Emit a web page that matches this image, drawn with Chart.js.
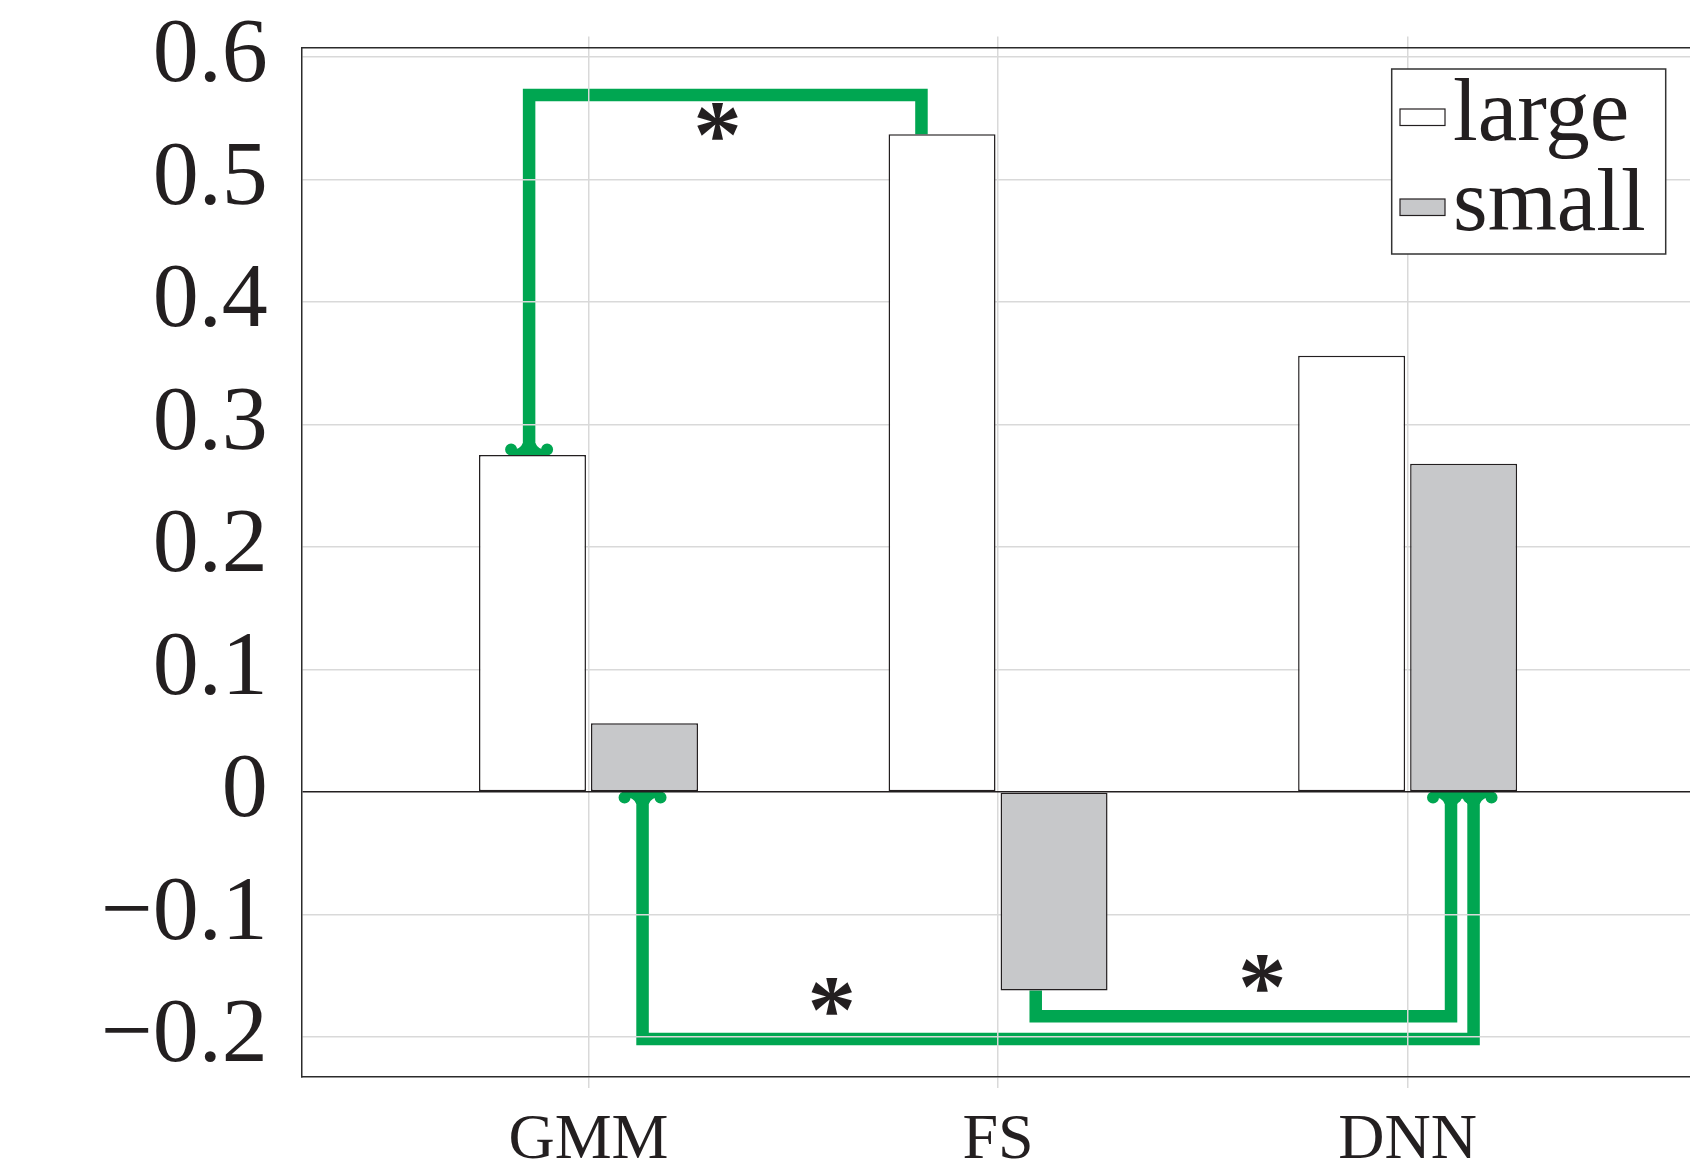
<!DOCTYPE html>
<html>
<head>
<meta charset="utf-8">
<script src="https://cdn.jsdelivr.net/npm/chart.js@4.4.0/dist/chart.umd.min.js"></script>
<style>
    html, body { margin: 0; padding: 0; background: #fff; overflow: hidden; }
    #wrap { width: 1720px; height: 1167px; }
</style>
</head>
<body>
<div id="wrap"><canvas id="chart" width="1720" height="1167"></canvas></div>
<script>
/* data */
const categories = ['GMM', 'FS', 'DNN'];
const largeValues = [0.275, 0.537, 0.356];
const smallValues = [0.056, -0.162, 0.268];
const yTickValues = [-0.2, -0.1, 0, 0.1, 0.2, 0.3, 0.4, 0.5, 0.6];
const yMin = -0.2327;
const yMax = 0.6078;
const xMin = 0.3;
const xMax = 3.7;

// significance brackets, data units (x: 1 = GMM, 2 = FS, 3 = DNN)
const bracketGmmFs = [[0.855, 0.275], [0.855, 0.569], [1.813, 0.569], [1.813, 0.537]];
const bracketGmmDnn = [[1.132, 0], [1.132, -0.2017], [3.161, -0.2017], [3.161, 0]];
const bracketFsDnn = [[2.092, -0.162], [2.092, -0.1831], [3.106, -0.1831], [3.106, 0]];
const starPoints = [[1.315, 0.547], [1.594, -0.1675], [2.645, -0.149]];

const COLORS = {
    text: '#231f20',
    edge: '#231f20',
    grid: '#d9d9d9',
    small: '#c7c8ca',
    green: '#00a651'
};
const SERIF = "'Liberation Serif', 'Times New Roman', serif";

const brackets = [
    { points: bracketGmmFs, headStart: true, headEnd: false },
    { points: bracketGmmDnn, headStart: true, headEnd: true },
    { points: bracketFsDnn, headStart: false, headEnd: true }
];

/**
 * Arrow head with two round lobes, tip at the bar edge
 */
const drawHead = (ctx, tip, from) => {
    const dir = tip[1] > from[1] ? 1 : -1;
    const w = 24, r = 6, band = 5;
    ctx.save();
    ctx.translate(tip[0], tip[1]);
    ctx.scale(1, dir);
    ctx.beginPath();
    ctx.moveTo(-(w - r), 0);
    ctx.lineTo(w - r, 0);
    ctx.lineTo(w - r, -band);
    ctx.quadraticCurveTo(9, -band, 6.25, -band - 7);
    ctx.lineTo(-6.25, -band - 7);
    ctx.quadraticCurveTo(-9, -band, -(w - r), -band);
    ctx.closePath();
    ctx.fill();
    ctx.beginPath();
    ctx.arc(w - r, -5.5, r, 0, Math.PI * 2);
    ctx.arc(-(w - r), -5.5, r, 0, Math.PI * 2);
    ctx.fill();
    ctx.restore();
};

const significancePlugin = {
    id: 'significance',
    beforeDraw(chart) {
        const { ctx, scales: { x, y } } = chart;
        ctx.save();
        ctx.strokeStyle = COLORS.green;
        ctx.fillStyle = COLORS.green;
        ctx.lineWidth = 12.5;
        ctx.lineJoin = 'miter';
        ctx.lineCap = 'butt';
        brackets.forEach(b => {
            const pts = b.points.map(([vx, vy]) => [x.getPixelForValue(vx), y.getPixelForValue(vy)]);
            ctx.beginPath();
            pts.forEach(([px, py], i) => (i ? ctx.lineTo(px, py) : ctx.moveTo(px, py)));
            ctx.stroke();
            if (b.headStart) drawHead(ctx, pts[0], pts[1]);
            if (b.headEnd) drawHead(ctx, pts[pts.length - 1], pts[pts.length - 2]);
        });
        ctx.restore();
    },
    afterDatasetsDraw(chart) {
        const { ctx, scales: { x, y } } = chart;
        ctx.save();
        ctx.fillStyle = COLORS.text;
        ctx.font = `bold 97px ${SERIF}`;
        ctx.textAlign = 'center';
        ctx.textBaseline = 'alphabetic';
        starPoints.forEach(([vx, vy]) => {
            ctx.fillText('*', x.getPixelForValue(vx), y.getPixelForValue(vy) + 45);
        });
        ctx.restore();
    }
};

const boxLegendPlugin = {
    id: 'boxLegend',
    afterDraw(chart) {
        const { ctx } = chart;
        const box = { x: 1391.7, y: 69, w: 274, h: 185 };
        ctx.save();
        ctx.fillStyle = '#ffffff';
        ctx.fillRect(box.x, box.y, box.w, box.h);
        ctx.strokeStyle = '#333333';
        ctx.lineWidth = 1.5;
        ctx.strokeRect(box.x, box.y, box.w, box.h);
        ctx.font = `89px ${SERIF}`;
        ctx.textBaseline = 'alphabetic';
        ctx.textAlign = 'left';
        chart.data.datasets.forEach((ds, i) => {
            const baseline = 140 + i * 90;
            const swY = baseline - 31;
            ctx.fillStyle = ds.backgroundColor;
            ctx.fillRect(1400, swY, 45, 16.5);
            ctx.strokeStyle = ds.borderColor;
            ctx.lineWidth = 1.2;
            ctx.strokeRect(1400, swY, 45, 16.5);
            ctx.fillStyle = COLORS.text;
            ctx.fillText(ds.label, 1453, baseline);
        });
        ctx.restore();
    }
};

const categoryTicks = (scale) => {
    scale.ticks = categories.map((c, i) => ({ value: i + 1 }));
};

// keep the plot box where the reference has it
const noPadding = (s) => {
    s.paddingTop = 0;
    s.paddingBottom = 0;
    s.paddingLeft = 0;
    s.paddingRight = 0;
};

const formatY = (v) => {
    if (Math.abs(v) < 1e-9) return '0';
    return (v < 0 ? '\u2212' : '') + Math.abs(v).toFixed(1);
};

const ctx = document.getElementById('chart').getContext('2d');
new Chart(ctx, {
    type: 'bar',
    data: {
        datasets: [{
            label: 'large',
            data: largeValues.map((v, i) => ({ x: i + 1, y: v })),
            backgroundColor: '#ffffff',
            borderColor: COLORS.edge,
            borderWidth: 1.5,
            borderSkipped: false,
            categoryPercentage: 0.547,
            barPercentage: 0.955
        }, {
            label: 'small',
            data: smallValues.map((v, i) => ({ x: i + 1, y: v })),
            backgroundColor: COLORS.small,
            borderColor: COLORS.edge,
            borderWidth: 1.5,
            borderSkipped: false,
            categoryPercentage: 0.547,
            barPercentage: 0.955
        }]
    },
    options: {
        responsive: false,
        animation: false,
        devicePixelRatio: 1,
        layout: { padding: { top: 36.4, right: 25.7, left: 0, bottom: 0 } },
        scales: {
            x: {
                type: 'linear',
                position: 'bottom',
                min: xMin,
                max: xMax,
                offset: false,
                afterBuildTicks: categoryTicks,
                afterFit: (s) => { s.height = 90; noPadding(s); },
                ticks: {
                    callback: (v) => categories[Math.round(v) - 1],
                    font: { family: SERIF, size: 64 },
                    color: COLORS.text,
                    padding: 15,
                    maxRotation: 0,
                    autoSkip: false
                },
                grid: {
                    offset: false,
                    color: COLORS.grid,
                    lineWidth: 1.5,
                    drawTicks: true,
                    tickLength: 11,
                    tickColor: COLORS.grid
                },
                border: { display: true, color: '#2b2b2b', width: 1.5 }
            },
            xTop: {
                type: 'linear',
                position: 'top',
                min: xMin,
                max: xMax,
                offset: false,
                afterBuildTicks: categoryTicks,
                afterFit: (s) => { s.height = 11; noPadding(s); },
                ticks: { display: false },
                grid: {
                    offset: false,
                    drawOnChartArea: false,
                    drawTicks: true,
                    tickLength: 11,
                    tickColor: COLORS.grid,
                    lineWidth: 1.5
                },
                border: { display: true, color: '#2b2b2b', width: 1.5 }
            },
            y: {
                min: yMin,
                max: yMax,
                afterBuildTicks: (s) => { s.ticks = yTickValues.map(v => ({ value: v })); },
                afterFit: (s) => { s.width = 301.8; noPadding(s); },
                ticks: {
                    callback: formatY,
                    font: { family: SERIF, size: 92 },
                    color: COLORS.text,
                    padding: 34
                },
                grid: {
                    color: (c) => (c.tick && Math.abs(c.tick.value) < 1e-9 ? COLORS.edge : COLORS.grid),
                    lineWidth: 1.5,
                    drawTicks: false
                },
                border: { display: true, color: '#2b2b2b', width: 1.5 }
            }
        },
        plugins: {
            legend: { display: false },
            tooltip: { enabled: false }
        }
    },
    plugins: [significancePlugin, boxLegendPlugin]
});
</script>
</body>
</html>
